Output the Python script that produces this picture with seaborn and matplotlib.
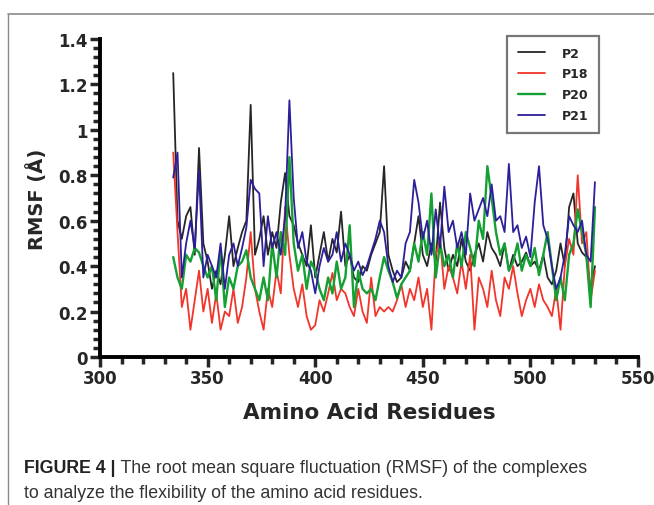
import numpy as np
import pandas as pd
import seaborn as sns
import matplotlib.pyplot as plt
from matplotlib.lines import Line2D
from matplotlib.ticker import MultipleLocator, FuncFormatter

# residue numbers (every second residue)
residues = list(range(334, 531, 2))

p2 = [1.25, 0.60, 0.52, 0.62, 0.66, 0.45, 0.92, 0.50, 0.42, 0.30,
      0.38, 0.32, 0.45, 0.62, 0.40, 0.48, 0.55, 0.60, 1.11, 0.45,
      0.52, 0.62, 0.45, 0.55, 0.48, 0.68, 0.81, 0.62, 0.58, 0.50,
      0.45, 0.40, 0.58, 0.35, 0.45, 0.55, 0.42, 0.52, 0.46, 0.64,
      0.40, 0.45, 0.35, 0.33, 0.40, 0.38, 0.45, 0.50, 0.55, 0.84,
      0.45, 0.38, 0.33, 0.35, 0.42, 0.38, 0.50, 0.62, 0.45, 0.40,
      0.50, 0.42, 0.68, 0.48, 0.38, 0.45, 0.40, 0.52, 0.42, 0.38,
      0.45, 0.50, 0.42, 0.55, 0.48, 0.45, 0.40, 0.50, 0.38, 0.45,
      0.40, 0.42, 0.46, 0.40, 0.42, 0.38, 0.45, 0.35, 0.32, 0.38,
      0.50, 0.40, 0.66, 0.72, 0.50, 0.46, 0.44, 0.30, 0.40]

p18 = [0.90, 0.55, 0.22, 0.30, 0.12, 0.25, 0.38, 0.20, 0.30, 0.15,
       0.28, 0.12, 0.20, 0.18, 0.30, 0.15, 0.22, 0.35, 0.55, 0.30,
       0.20, 0.12, 0.30, 0.22, 0.38, 0.28, 0.66, 0.45, 0.30, 0.22,
       0.32, 0.18, 0.12, 0.14, 0.25, 0.20, 0.28, 0.37, 0.25, 0.30,
       0.28, 0.22, 0.18, 0.30, 0.20, 0.15, 0.35, 0.18, 0.22, 0.20,
       0.22, 0.20, 0.25, 0.32, 0.22, 0.30, 0.25, 0.35, 0.22, 0.30,
       0.12, 0.45, 0.52, 0.30, 0.40, 0.35, 0.28, 0.42, 0.30, 0.45,
       0.12, 0.35, 0.30, 0.22, 0.38, 0.25, 0.18, 0.35, 0.30, 0.40,
       0.28, 0.18, 0.25, 0.30, 0.22, 0.32, 0.25, 0.22, 0.18, 0.30,
       0.12, 0.40, 0.52, 0.45, 0.80, 0.50, 0.55, 0.25, 0.38]

p20 = [0.44, 0.35, 0.30, 0.45, 0.42, 0.48, 0.46, 0.40, 0.35, 0.40,
       0.25, 0.48, 0.22, 0.35, 0.30, 0.40, 0.42, 0.47, 0.35, 0.30,
       0.25, 0.35, 0.25, 0.50, 0.35, 0.55, 0.45, 0.88, 0.50, 0.38,
       0.45, 0.30, 0.42, 0.38, 0.30, 0.25, 0.35, 0.28, 0.42, 0.30,
       0.35, 0.58, 0.22, 0.38, 0.30, 0.28, 0.30, 0.25, 0.35, 0.44,
       0.38, 0.33, 0.26, 0.32, 0.35, 0.38, 0.50, 0.42, 0.55, 0.45,
       0.72, 0.35, 0.50, 0.40, 0.45, 0.35, 0.50, 0.40, 0.55, 0.48,
       0.40, 0.60, 0.52, 0.84, 0.70, 0.55, 0.45, 0.50, 0.38, 0.42,
       0.50, 0.38, 0.45, 0.40, 0.48, 0.36, 0.45, 0.55, 0.40, 0.25,
       0.35, 0.25, 0.45, 0.50, 0.65, 0.55, 0.45, 0.22, 0.66]

p21 = [0.79, 0.90, 0.35, 0.50, 0.60, 0.48, 0.82, 0.35, 0.45, 0.40,
       0.35, 0.50, 0.30, 0.45, 0.50, 0.40, 0.48, 0.57, 0.78, 0.74,
       0.72, 0.40, 0.62, 0.48, 0.55, 0.45, 0.62, 1.13, 0.70, 0.48,
       0.55, 0.42, 0.38, 0.28, 0.40, 0.48, 0.42, 0.45, 0.55, 0.42,
       0.50, 0.45, 0.38, 0.42, 0.36, 0.40, 0.46, 0.52, 0.60, 0.55,
       0.40, 0.33, 0.38, 0.35, 0.50, 0.55, 0.78, 0.68, 0.52, 0.60,
       0.45, 0.65, 0.48, 0.75, 0.55, 0.60, 0.48, 0.55, 0.45, 0.72,
       0.60, 0.65, 0.70, 0.62, 0.76, 0.60, 0.62, 0.55, 0.85, 0.55,
       0.58, 0.48, 0.53, 0.44, 0.68, 0.84, 0.58, 0.52, 0.40, 0.30,
       0.35, 0.45, 0.62, 0.58, 0.55, 0.60, 0.45, 0.42, 0.77]

series = {'P2': p2, 'P18': p18, 'P20': p20, 'P21': p21}
colors = {'P2': '#262626', 'P18': '#f2352a', 'P20': '#14a032', 'P21': '#2c1f9a'}
widths = {'P2': 1.3, 'P18': 1.3, 'P20': 1.7, 'P21': 1.3}

sns.set_style('ticks')
plt.rcParams['font.family'] = ['DejaVu Sans']

fig = plt.figure(figsize=(6.54, 5.06), dpi=100)
ax = fig.add_axes([0.153, 0.2925, 0.8225, 0.6285])

for name, vals in series.items():
    df = pd.DataFrame({'res': residues, 'rmsf': vals})
    sns.lineplot(data=df, x='res', y='rmsf', ax=ax, color=colors[name],
                 linewidth=widths[name], label=name)

ax.set_xlim(300, 550)
ax.set_ylim(0, 1.4)
ax.xaxis.set_major_locator(MultipleLocator(50))
ax.xaxis.set_minor_locator(MultipleLocator(10))
ax.yaxis.set_major_locator(MultipleLocator(0.2))
ax.yaxis.set_minor_locator(MultipleLocator(0.04))
ax.yaxis.set_major_formatter(FuncFormatter(lambda v, p: ('%.1f' % v).rstrip('0').rstrip('.') if v else '0'))
ax.tick_params(which='major', direction='out', length=7, width=2.5, labelsize=12,
               pad=2)
ax.tick_params(which='minor', direction='out', length=5, width=2.5)
for lab in ax.get_xticklabels() + ax.get_yticklabels():
    lab.set_fontweight('bold')
for s in ['top', 'right']:
    ax.spines[s].set_visible(False)
for s in ['left', 'bottom']:
    ax.spines[s].set_linewidth(2.8)
    ax.spines[s].set_color('black')

ax.set_xlabel('Amino Acid Residues', fontsize=15.5, fontweight='bold', labelpad=10.5)
ax.set_ylabel('RMSF (Å)', fontsize=14, fontweight='bold', labelpad=8)

leg = ax.legend(loc='upper left', bbox_to_anchor=(0.7565, 1.009), borderaxespad=0,
                frameon=True, fancybox=False, edgecolor='#555555', fontsize=9,
                handlelength=2.2, labelspacing=0.62, borderpad=0.85,
                handletextpad=1.35)
leg.get_frame().set_linewidth(1.6)
for t in leg.get_texts():
    t.set_fontweight('bold')

# page frame lines
fig.add_artist(Line2D([0.012, 1.0], [0.971, 0.971], color='#8a8a8a', lw=1.2))
fig.add_artist(Line2D([0.012, 0.012], [0.0, 0.971], color='#8a8a8a', lw=1.0))

cap_font = ['Liberation Sans Narrow', 'Liberation Sans', 'DejaVu Sans']
t1 = fig.text(0.037, 0.066, 'FIGURE 4 |', fontsize=12.75, fontweight='bold',
              family=cap_font, color='#222222', va='baseline')
ax.annotate(' The root mean square fluctuation (RMSF) of the complexes',
            xy=(1, 0), xycoords=t1, va='bottom', fontsize=12.75,
            family=cap_font, color='#333333', annotation_clip=False)
fig.text(0.037, 0.016, 'to analyze the flexibility of the amino acid residues.',
         fontsize=12.75, family=cap_font, color='#333333', va='baseline')

plt.savefig('out.png', dpi=100)
